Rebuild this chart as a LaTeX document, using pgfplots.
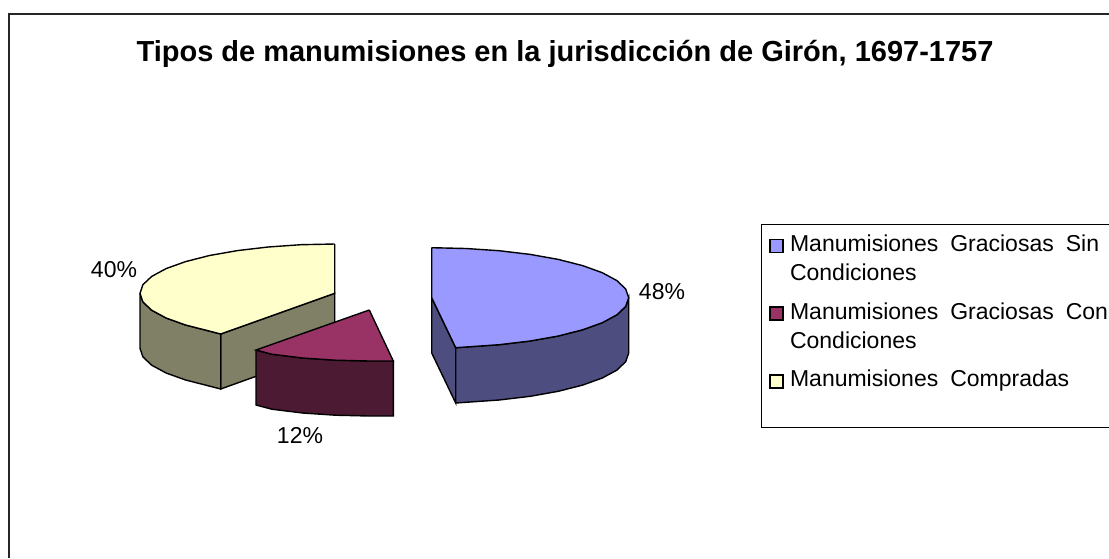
\documentclass[border=0pt]{standalone}
\usepackage{pgfplots}
\pgfplotsset{compat=1.18}
\usepackage{fontspec}
\setmainfont{Liberation Sans}
\definecolor{bluetop}{HTML}{9999FF}
\definecolor{blueside}{HTML}{4D4D80}
\definecolor{martop}{HTML}{993366}
\definecolor{marside}{HTML}{4D1A33}
\definecolor{yeltop}{HTML}{FFFFCC}
\definecolor{yelside}{HTML}{808066}
\newcommand{\legtext}[1]{\parbox[t]{340pt}{\fontsize{23}{29}\selectfont\spaceskip=12pt #1}}
\begin{document}
\begin{tikzpicture}
\path[use as bounding box] (0,0) rectangle (1109pt,558pt);
\begin{axis}[
  scale only axis, width=1109pt, height=558pt,
  xmin=0, xmax=1109, ymin=0, ymax=558, y dir=reverse,
  hide axis, clip=false,
  legend style={at={(axis cs:761,224)}, anchor=north west, draw=black, line width=0.9pt,
    inner xsep=8pt, inner ysep=9pt, row sep=20pt,
    nodes={inner sep=1pt, anchor=base west, text depth=, text height=}},
  legend cell align=left,
  legend image code/.code={\draw[#1, line width=1.2pt] (0pt,-1pt) rectangle (13pt,12pt); \path[draw=none, fill=none] (0pt,0pt) -- (19pt,0pt);},
]
% frame
\addplot[forget plot, black!85, line width=1.3pt] coordinates {(9,558) (9,14) (1109,14)};

% blue slice: side, then top
\addplot[forget plot, fill=blueside, draw=black, line width=1.4pt] coordinates {
 (431.7,297.7) (431.7,353) (455.7,403) (455.7,347.7) (431.7,297.7)};
\addplot[forget plot, fill=blueside, draw=black, line width=1.4pt] coordinates {
 (455.7,347.7) (499.1,344.7) (530.2,341) (558.3,336) (582.6,329.8) (602.3,322.7) (616.9,314.8) (625.7,306.4) (628.7,297.7)
 (628.7,353) (625.7,361.7) (616.9,370.1) (602.3,378) (582.6,385.1) (558.3,391.3) (530.2,396.3) (499.1,400) (455.7,403) (455.7,347.7)};
\addplot[fill=bluetop, draw=black, line width=1.4pt] coordinates {
 (431.7,247.7) (465.9,248.5) (499.1,250.7) (530.2,254.4) (558.3,259.4) (582.6,265.6) (602.3,272.7) (616.9,280.6) (625.7,289) (628.7,297.7)
 (625.7,306.4) (616.9,314.8) (602.3,322.7) (582.6,329.8) (558.3,336) (530.2,341) (499.1,344.7) (455.7,347.7) (431.7,297.7) (431.7,247.7)};
\addlegendentry{\legtext{Manumisiones Graciosas Sin\\Condiciones}}

% yellow slice sides (drawn before the maroon slice)
\addplot[forget plot, fill=yelside, draw=black, line width=1.4pt] coordinates {
 (220.7,334) (334.7,293.3) (334.7,348) (220.7,389) (220.7,334)};
\addplot[forget plot, fill=yelside, draw=black, line width=1.4pt] coordinates {
 (140,293.3) (142.9,301.9) (151.7,310.2) (166.1,318) (185.6,325) (209.5,331.1) (220.7,334)
 (220.7,389) (209.5,386.1) (185.6,380) (166.1,373) (151.7,365.2) (142.9,356.9) (140,348.3) (140,293.3)};

% maroon slice
\addplot[forget plot, fill=marside, draw=black, line width=1.4pt] coordinates {
 (256,350) (271.8,354.2) (302.6,358) (335.4,360.2) (369.3,361) (393.3,361) (393.3,416) (369.3,416) (335.4,415.2) (302.6,413) (271.8,409.2) (256,405) (256,350)};
\addplot[fill=martop, draw=black, line width=1.4pt] coordinates {
 (369.3,310) (393.3,361) (369.3,361) (335.4,360.2) (302.6,358) (271.8,354.2) (256,350) (369.3,310)};
\addlegendentry{\legtext{Manumisiones Graciosas Con\\Condiciones}}

% yellow top
\addplot[fill=yeltop, draw=black, line width=1.4pt] coordinates {
 (334.7,244) (334.7,293.3) (220.7,334) (209.5,331.1) (185.6,325) (166.1,318) (151.7,310.2) (142.9,301.9) (140,293.3) (142.9,284.7)
 (151.7,276.4) (166.1,268.6) (185.6,261.6) (209.5,255.5) (237.4,250.6) (268.1,247) (300.8,244.7) (334.7,244)};
\addlegendentry{\legtext{Manumisiones Compradas\rule[-31pt]{0pt}{1pt}}}

\node[font=\fontsize{29}{34}\selectfont\bfseries] at (axis cs:565,54) {Tipos de manumisiones en la jurisdicción de Girón, 1697-1757};
\node[font=\fontsize{23}{28}\selectfont] at (axis cs:662,292) {48\%};
\node[font=\fontsize{23}{28}\selectfont] at (axis cs:114,270) {40\%};
\node[font=\fontsize{23}{28}\selectfont] at (axis cs:300,436) {12\%};
\end{axis}
\end{tikzpicture}
\end{document}
